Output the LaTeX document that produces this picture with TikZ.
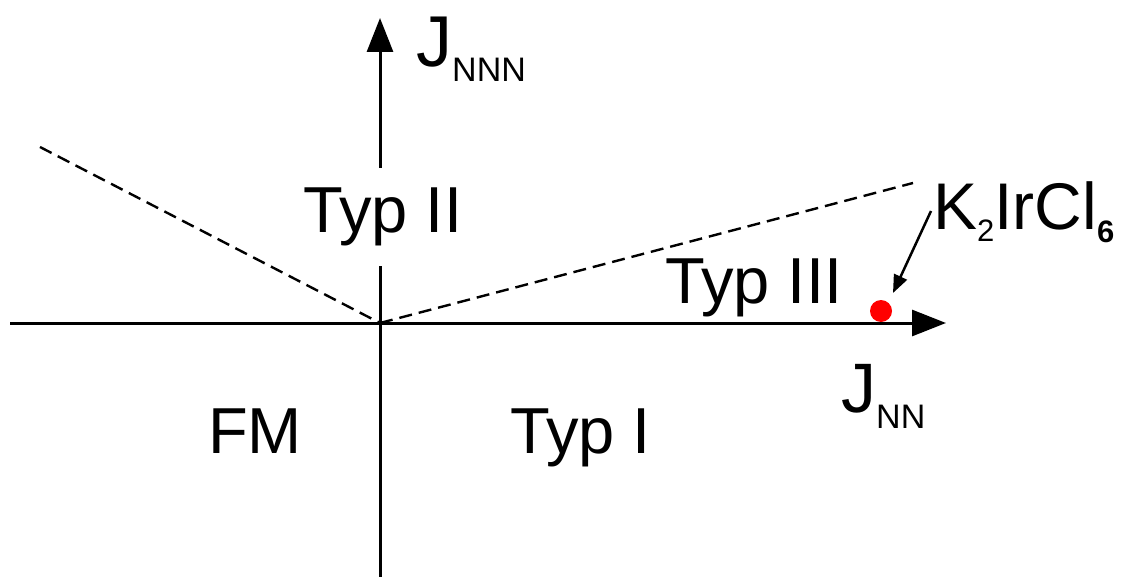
\documentclass[tikz,border=0pt]{standalone}
\usepackage{fontspec}
\setmainfont{Liberation Sans}
\usetikzlibrary{arrows.meta}
\begin{document}
\begin{tikzpicture}[x=1pt,y=-1pt,
  axis/.style={line width=3pt,-{Triangle[length=34pt,width=26pt]}},
  bound/.style={line width=2.4pt,dash pattern=on 13pt off 7pt},
  region/.style={anchor=base west,inner sep=0pt,font=\fontsize{65}{65}\selectfont},
  lbl/.style={anchor=base west,inner sep=0pt}]
\useasboundingbox (0,0) rectangle (1129,577);
\coordinate (O) at (380,323);
\coordinate (xs) at (10,323);
\coordinate (xe) at (946,323);
\coordinate (ys) at (380,577);
\coordinate (ye) at (380,18);
\coordinate (dl) at (40,147);
\coordinate (dr) at (913,183);
\draw[axis] (xs) -- (xe);
\draw[axis] (ys) -- (ye);
\draw[bound] (dl) -- (O);
\draw[bound] (O) -- (dr);
\node[region,fill=white,inner ysep=20pt] (t2) at (303,233) {Typ II};
\node[region] (t3) at (665,303) {Typ III};
\node[region] (fm) at (208,453) {FM};
\node[region] (t1) at (510,453) {Typ I};
\node[lbl] (jnnn) at (416,67) {\fontsize{72}{72}\selectfont J\raisebox{-15pt}{\fontsize{34}{34}\selectfont NNN}};
\node[lbl] (jnn) at (841,412) {\fontsize{70}{70}\selectfont J\raisebox{-16pt}{\fontsize{34}{34}\selectfont NN}};
\node[lbl] (k) at (933,230) {\fontsize{66}{66}\selectfont K\raisebox{-12pt}{\fontsize{31}{31}\selectfont 2}IrCl\raisebox{-13pt}{\fontsize{31}{31}\selectfont\bfseries 6}};
\fill[red] (881,311) circle (11pt) coordinate (dot);
\coordinate (as) at (931,211);
\coordinate (ae) at (893,293);
\draw[line width=2.5pt,-{Triangle[length=18pt,width=14pt]}] (as) -- (ae);
\end{tikzpicture}
\end{document}
